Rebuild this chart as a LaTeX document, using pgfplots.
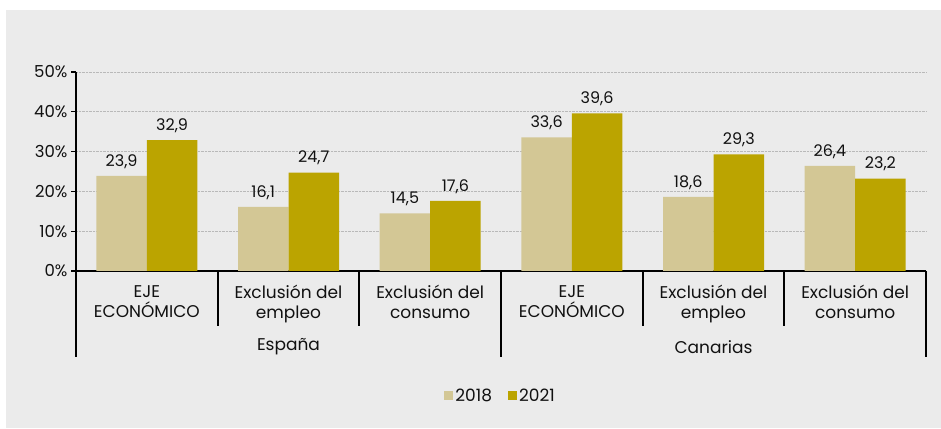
\documentclass[border=0pt]{standalone}
\usepackage{pgfplots}
\pgfplotsset{compat=1.18}
\usepackage{fontspec}
\setmainfont{Poppins}
\definecolor{bgc}{HTML}{EBEBEB}
\definecolor{c18}{HTML}{D3C795}
\definecolor{c21}{HTML}{BBA400}
\definecolor{txt}{HTML}{111111}
\begin{document}
\begin{tikzpicture}[x=1pt,y=1pt]
\useasboundingbox (0,0) rectangle (941pt,428pt);
\fill[white] (0,0) rectangle (941pt,428pt);
\fill[bgc] (6pt,0) rectangle (941pt,418pt);
\begin{axis}[
  at={(76pt,157pt)}, anchor=south west,
  scale only axis, width=850pt, height=199pt,
  xmin=-0.5, xmax=5.5, ymin=0, ymax=50,
  ybar=0pt, bar width=50.5pt,
  axis x line=bottom, axis y line=left,
  axis line style={black, line width=1.7pt, -},
  clip=false,
  xtick={0,1,2,3,4,5},
  xticklabels={EJE\\ECONÓMICO, Exclusión del\\empleo, Exclusión del\\consumo, EJE\\ECONÓMICO, Exclusión del\\empleo, Exclusión del\\consumo},
  xticklabel style={align=center, font=\fontsize{17}{20}\selectfont, text=txt, yshift=-6pt},
  xtick style={draw=none},
  ytick={0,10,20,30,40,50},
  yticklabel={\pgfmathprintnumber{\tick}\%},
  yticklabel style={font=\fontsize{16.5}{18}\selectfont, text=txt},
  /pgf/number format/assume math mode=true,
  tick align=outside, major tick length=5pt,
  ytick style={black, line width=1.2pt},
  ymajorgrids, grid style={densely dotted, gray!55, line width=0.8pt},
  nodes near coords,
  every node near coord/.append style={font=\fontsize{16}{18}\selectfont, text=txt, yshift=4pt,
     /pgf/number format/.cd, use comma, fixed, fixed zerofill, precision=1, assume math mode=true},
  legend columns=2,
  legend style={at={(0.4995,-0.628)}, anchor=center, draw=none, fill=none,
    font=\fontsize{17}{18}\selectfont, text=txt,
    /tikz/every even column/.append style={column sep=14pt}},
  legend image code/.code={\fill[#1] (0pt,-4.5pt) rectangle (9pt,4.5pt);},
]
\addplot[fill=c18, draw=none] coordinates {(0,23.9) (1,16.1) (2,14.5) (3,33.6) (4,18.6) (5,26.4)};
\addplot[fill=c21, draw=none] coordinates {(0,32.9) (1,24.7) (2,17.6) (3,39.6) (4,29.3) (5,23.2)};
\legend{2018, 2021}
\draw[black, line width=1.7pt] (axis cs:0.5,0) -- ([yshift=-55pt]axis cs:0.5,0);
\draw[black, line width=1.7pt] (axis cs:1.5,0) -- ([yshift=-55pt]axis cs:1.5,0);
\draw[black, line width=1.7pt] (axis cs:3.5,0) -- ([yshift=-55pt]axis cs:3.5,0);
\draw[black, line width=1.7pt] (axis cs:4.5,0) -- ([yshift=-55pt]axis cs:4.5,0);
\draw[black, line width=1.7pt] (axis cs:-0.5,0) -- ([yshift=-86pt]axis cs:-0.5,0);
\draw[black, line width=1.7pt] (axis cs:2.5,0) -- ([yshift=-86pt]axis cs:2.5,0);
\draw[black, line width=1.7pt] (axis cs:5.5,0) -- ([yshift=-86pt]axis cs:5.5,0);
\node[font=\fontsize{17}{18}\selectfont, text=txt] at ([yshift=-76pt]axis cs:1,0) {España};
\node[font=\fontsize{17}{18}\selectfont, text=txt] at ([yshift=-76pt]axis cs:4,0) {Canarias};
\end{axis}
\end{tikzpicture}
\end{document}
